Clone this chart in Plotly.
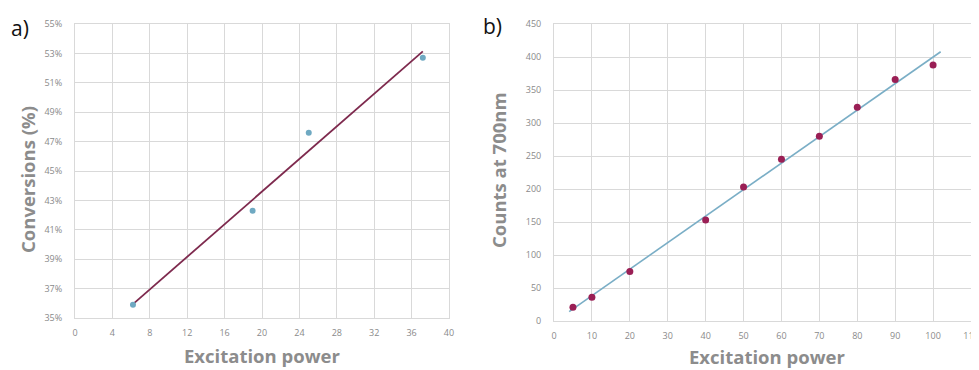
import numpy as np
import plotly.graph_objects as go

# ---- data ----
a_power = [6.2, 19, 25, 37.2]
a_conv = [35.9, 42.3, 47.6, 52.7]          # percent
b_power = [5, 10, 20, 40, 50, 60, 70, 80, 90, 100]
b_counts = [21, 36, 75, 153, 203, 245, 280, 324, 366, 388]

a_xticks = list(range(0, 41, 4))
a_yticks = list(range(35, 56, 2))
a_ylabels = [f"{v}%" for v in a_yticks]
b_xticks = list(range(0, 111, 10))
b_yticks = list(range(0, 451, 50))

# linear trendlines (derived from data)
ka, ca = np.polyfit(a_power, a_conv, 1)
a_fit_x = [min(a_power), max(a_power)]
a_fit_y = [ka * v + ca for v in a_fit_x]
kb, cb = np.polyfit(b_power, b_counts, 1)
b_fit_x = [min(b_power) - 1, max(b_power) + 2]
b_fit_y = [kb * v + cb for v in b_fit_x]

# page body has an 8px margin -> figure is offset; convert window px to paper
OFF = 8
W, H = 979, 370 - OFF
def px(x):
    return (x - OFF) / W
def py(y):
    return 1 - (y - OFF) / H

BLUE = "#7aaec6"
GRID = "#d9d9d9"
TICK = "#8a8a8a"
TITLE = "#8c8c8c"

fig = go.Figure()
fig.add_trace(go.Scatter(x=a_fit_x, y=a_fit_y, mode="lines",
                         line=dict(color="#7e2a4e", width=1.8), xaxis="x", yaxis="y"))
fig.add_trace(go.Scatter(x=a_power, y=a_conv, mode="markers",
                         marker=dict(color="#6fa9c2", size=6), xaxis="x", yaxis="y"))
fig.add_trace(go.Scatter(x=b_fit_x, y=b_fit_y, mode="lines",
                         line=dict(color=BLUE, width=1.6), xaxis="x2", yaxis="y2"))
fig.add_trace(go.Scatter(x=b_power, y=b_counts, mode="markers",
                         marker=dict(color="#9a1f55", size=7), xaxis="x2", yaxis="y2"))

axcommon = dict(showgrid=True, gridcolor=GRID, gridwidth=1, zeroline=False,
                showline=True, linecolor=GRID, linewidth=1, mirror=True,
                automargin=False,
                tickfont=dict(family="Open Sans", size=9, color=TICK), ticks="")

fig.update_layout(
    width=W, height=H, margin=dict(l=0, r=0, t=0, b=0),
    paper_bgcolor="white", plot_bgcolor="white", showlegend=False,
    xaxis=dict(domain=[px(75), px(449)], range=[0, 40], tickvals=a_xticks,
               anchor="y", ticklabelstandoff=6, **axcommon),
    yaxis=dict(domain=[py(318), py(24)], range=[35, 55], tickvals=a_yticks,
               ticktext=a_ylabels, anchor="x", ticklabelstandoff=10, **axcommon),
    xaxis2=dict(domain=[px(554), px(971)], range=[0, 110], tickvals=b_xticks,
                anchor="y2", ticklabelstandoff=6, **axcommon),
    yaxis2=dict(domain=[py(321), py(24)], range=[0, 450], tickvals=b_yticks,
                anchor="x2", ticklabelstandoff=10, **axcommon),
)

tfont = dict(family="Open Sans", size=18.5, color=TITLE)
fig.add_annotation(text="<b>Excitation power</b>", x=px(262), y=py(355),
                   xref="paper", yref="paper", showarrow=False, font=tfont,
                   xanchor="center", yanchor="middle")
fig.add_annotation(text="<b>Excitation power</b>", x=px(767), y=py(356),
                   xref="paper", yref="paper", showarrow=False, font=tfont,
                   xanchor="center", yanchor="middle")
fig.add_annotation(text="<b>Conversions (%)</b>", x=px(27), y=py(180),
                   xref="paper", yref="paper", showarrow=False, font=tfont,
                   textangle=-90, xanchor="center", yanchor="middle")
fig.add_annotation(text="<b>Counts at 700nm</b>", x=px(498), y=py(170),
                   xref="paper", yref="paper", showarrow=False, font=tfont,
                   textangle=-90, xanchor="center", yanchor="middle")
lfont = dict(family="Open Sans", size=21, color="#111111")
fig.add_annotation(text="a)", x=px(20), y=py(28), xref="paper", yref="paper",
                   showarrow=False, font=lfont, xanchor="center", yanchor="middle")
fig.add_annotation(text="b)", x=px(492), y=py(26), xref="paper", yref="paper",
                   showarrow=False, font=lfont, xanchor="center", yanchor="middle")

fig.write_html("out.html")
